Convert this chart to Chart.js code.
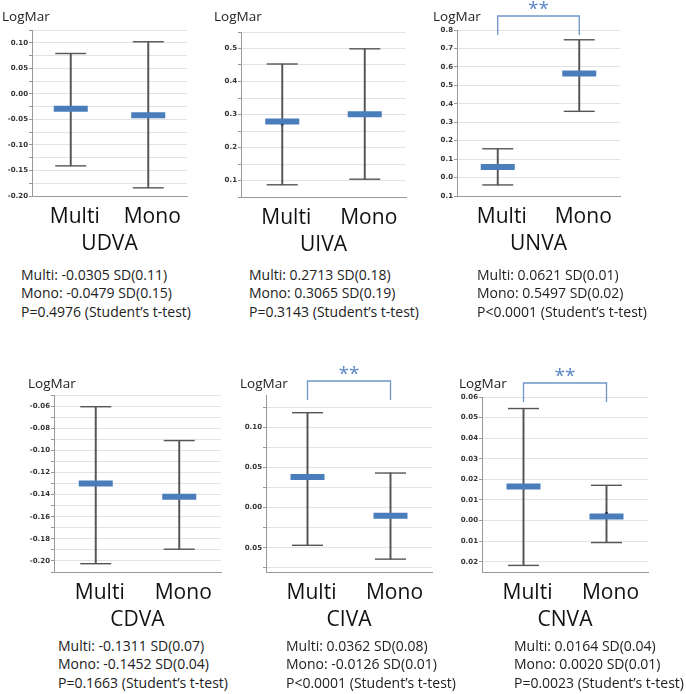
<!DOCTYPE html>
<html>
<head>
<meta charset="utf-8">
<script src="https://cdn.jsdelivr.net/npm/chart.js@4"></script>
<style>
body{margin:0;background:#fff;width:686px;height:694px;position:relative;overflow:hidden;font-family:"Open Sans",sans-serif;}
canvas{position:absolute;}
.ylab{position:absolute;font-size:13.5px;line-height:16px;color:#222;}
.stats{position:absolute;font-size:14px;line-height:18.3px;color:#222;white-space:nowrap;}
</style>
</head>
<body>
<script>
let groups = ["Multi", "Mono"];
let measures = ["UDVA", "UIVA", "UNVA", "CDVA", "CIVA", "CNVA"];

// blue bar, whisker ends, mean dot
let centerValues = [[-0.029, -0.042], [0.279, 0.301], [0.057, 0.564], [-0.130, -0.142], [0.038, -0.010], [0.0165, 0.0019]];
let upperValues = [[0.079, 0.102], [0.453, 0.499], [0.156, 0.747], [-0.0606, -0.0912], [0.118, 0.043], [0.0544, 0.0171]];
let lowerValues = [[-0.141, -0.184], [0.087, 0.104], [-0.040, 0.359], [-0.2025, -0.1894], [-0.0468, -0.064], [-0.0218, -0.0107]];
let meanDots = [[null, null], [0.2713, null], [null, null], [null, null], [null, null], [null, 0.0034]];

let axisRanges = [[-0.20, 0.125], [0.05, 0.55], [-0.1, 0.8], [-0.21, -0.05], [-0.08, 0.14], [-0.025, 0.06]];
let tickValues = [
    [0.10, 0.05, 0.00, -0.05, -0.10, -0.15, -0.20],
    [0.5, 0.4, 0.3, 0.2, 0.1],
    [0.8, 0.7, 0.6, 0.5, 0.4, 0.3, 0.2, 0.1, 0.0, -0.1],
    [-0.06, -0.08, -0.10, -0.12, -0.14, -0.16, -0.18, -0.20],
    [0.10, 0.05, 0.00, -0.05],
    [0.06, 0.05, 0.04, 0.03, 0.02, 0.01, 0.00, -0.01, -0.02]
];
let tickLabels = [
    ["0.10", "0.05", "0.00", "-0.05", "-0.10", "-0.15", "-0.20"],
    ["0.5", "0.4", "0.3", "0.2", "0.1"],
    ["0.8", "0.7", "0.6", "0.5", "0.4", "0.3", "0.2", "0.1", "0.0", "0.1"],
    ["-0.06", "-0.08", "-0.10", "-0.12", "-0.14", "-0.16", "-0.18", "-0.20"],
    ["0.10", "0.05", "0.00", "0.05"],
    ["0.06", "0.05", "0.04", "0.03", "0.02", "0.01", "0.00", "0.01", "0.02"]
];
let significant = [false, false, true, false, true, true];
let statLines = [
    ["Multi: -0.0305 SD(0.11)", "Mono: -0.0479 SD(0.15)", "P=0.4976 (Student\u2019s t-test)"],
    ["Multi: 0.2713 SD(0.18)", "Mono: 0.3065 SD(0.19)", "P=0.3143 (Student\u2019s t-test)"],
    ["Multi: 0.0621 SD(0.01)", "Mono: 0.5497 SD(0.02)", "P<0.0001 (Student\u2019s t-test)"],
    ["Multi: -0.1311 SD(0.07)", "Mono: -0.1452 SD(0.04)", "P=0.1663 (Student\u2019s t-test)"],
    ["Multi: 0.0362 SD(0.08)", "Mono: -0.0126 SD(0.01)", "P<0.0001 (Student\u2019s t-test)"],
    ["Multi: 0.0164 SD(0.04)", "Mono: 0.0020 SD(0.01)", "P=0.0023 (Student\u2019s t-test)"]
];

// panel placement on the page
let panels = [
    {L: 32, R: 206, T: 30, B: 196, minor: true, logX: 2, logY: 8, statX: 21, statY: 266},
    {L: 241, R: 425, T: 32, B: 197, minor: true, logX: 214, logY: 8, statX: 249, statY: 266},
    {L: 457, R: 639, T: 30, B: 196, minor: false, logX: 433, logY: 8, statX: 477, statY: 266},
    {L: 54, R: 240, T: 395, B: 572, minor: true, logX: 28, logY: 375, statX: 58, statY: 637},
    {L: 266, R: 451, T: 395, B: 572, minor: true, logX: 240, logY: 375, statX: 286, statY: 637},
    {L: 482, R: 667, T: 397, B: 572, minor: false, logX: 459, logY: 375, statX: 514, statY: 637}
];

let yAxisW = 30, padTop = 30, padRight = 4, xAxisH = 64;

let bracketPlugin = {
    id: "bracket",
    afterDraw(chart, args, opts) {
        if (!opts.show) return;
        let ctx = chart.ctx;
        let top = chart.chartArea.top;
        let x1 = chart.scales.x.getPixelForValue(0);
        let x2 = chart.scales.x.getPixelForValue(1);
        ctx.save();
        ctx.strokeStyle = "#6f95c9";
        ctx.lineWidth = 1.3;
        ctx.beginPath();
        ctx.moveTo(x1, top + 5);
        ctx.lineTo(x1, top - 14);
        ctx.lineTo(x2, top - 14);
        ctx.lineTo(x2, top + 5);
        ctx.stroke();
        ctx.fillStyle = "#5a87c6";
        ctx.font = "19px 'Open Sans', sans-serif";
        ctx.textAlign = "center";
        ctx.textBaseline = "middle";
        ctx.fillText("**", (x1 + x2) / 2, top - 20);
        ctx.restore();
    }
};

function addDiv(cls, x, y, html) {
    let d = document.createElement("div");
    d.className = cls;
    d.style.left = x + "px";
    d.style.top = y + "px";
    d.innerHTML = html;
    document.body.appendChild(d);
}

panels.forEach(function (p, i) {
    let canvas = document.createElement("canvas");
    canvas.width = p.R - p.L + yAxisW + padRight;
    canvas.height = p.B - p.T + padTop + xAxisH;
    canvas.style.left = (p.L - yAxisW) + "px";
    canvas.style.top = (p.T - padTop) + "px";
    document.body.appendChild(canvas);

    addDiv("ylab", p.logX, p.logY, "LogMar");
    addDiv("stats", p.statX, p.statY, statLines[i].join("<br>"));

    let whiskers = groups.map((g, k) => [lowerValues[i][k], upperValues[i][k]]);
    let min = axisRanges[i][0], max = axisRanges[i][1];

    new Chart(canvas.getContext("2d"), {
        type: "bar",
        data: {
            labels: groups,
            datasets: [
                {type: "line", data: centerValues[i], showLine: false, pointStyle: "line",
                    pointRadius: 17, pointBorderWidth: 6, pointBorderColor: "#4a7ebb", order: 1},
                {type: "line", data: meanDots[i], showLine: false, pointStyle: "circle",
                    pointRadius: 1.6, pointBorderWidth: 0, pointBackgroundColor: "#111", order: 2},
                {type: "line", data: upperValues[i], showLine: false, pointStyle: "line",
                    pointRadius: 15.5, pointBorderWidth: 1.4, pointBorderColor: "#555", order: 3},
                {type: "line", data: lowerValues[i], showLine: false, pointStyle: "line",
                    pointRadius: 15.5, pointBorderWidth: 1.4, pointBorderColor: "#555", order: 3},
                {data: whiskers, barThickness: 1.3, backgroundColor: "#555", order: 4}
            ]
        },
        options: {
            responsive: false,
            animation: false,
            events: [],
            layout: {padding: {top: padTop, right: padRight, left: 0, bottom: 0}},
            plugins: {legend: {display: false}, tooltip: {enabled: false}, bracket: {show: significant[i]}},
            scales: {
                x: {
                    grid: {display: false},
                    border: {color: "#999", width: 1},
                    ticks: {color: "#111", font: {family: "Open Sans", size: 21}, padding: 0, labelOffset: 4},
                    title: {display: true, text: measures[i], color: "#111",
                        font: {family: "Open Sans", size: 21}, padding: {top: 0, bottom: 3}},
                    afterFit(scale) { scale.height = xAxisH; }
                },
                y: {
                    min: min,
                    max: max,
                    grid: {color: "#e3e3e3", tickColor: "#999", tickLength: 3},
                    border: {color: "#999", width: 1},
                    ticks: {
                        color: "#333",
                        font: {family: "DejaVu Sans", size: 7, weight: "bold"},
                        padding: 1,
                        autoSkip: false,
                        callback(value) {
                            let k = tickValues[i].findIndex(v => Math.abs(v - value) < 1e-9);
                            return k >= 0 ? tickLabels[i][k] : "";
                        }
                    },
                    afterBuildTicks(scale) {
                        let vals = tickValues[i].slice();
                        if (p.minor) {
                            let half = Math.abs(vals[0] - vals[1]) / 2;
                            tickValues[i].forEach(v => { vals.push(v + half); vals.push(v - half); });
                        }
                        vals = vals.map(v => Math.round(v * 1e6) / 1e6)
                            .filter((v, k, a) => a.indexOf(v) === k && v >= min - 1e-9 && v <= max + 1e-9)
                            .sort((a, b) => a - b);
                        scale.ticks = vals.map(v => ({value: v}));
                    },
                    afterFit(scale) { scale.width = yAxisW; }
                }
            }
        },
        plugins: [bracketPlugin]
    });
});
</script>
</body>
</html>
